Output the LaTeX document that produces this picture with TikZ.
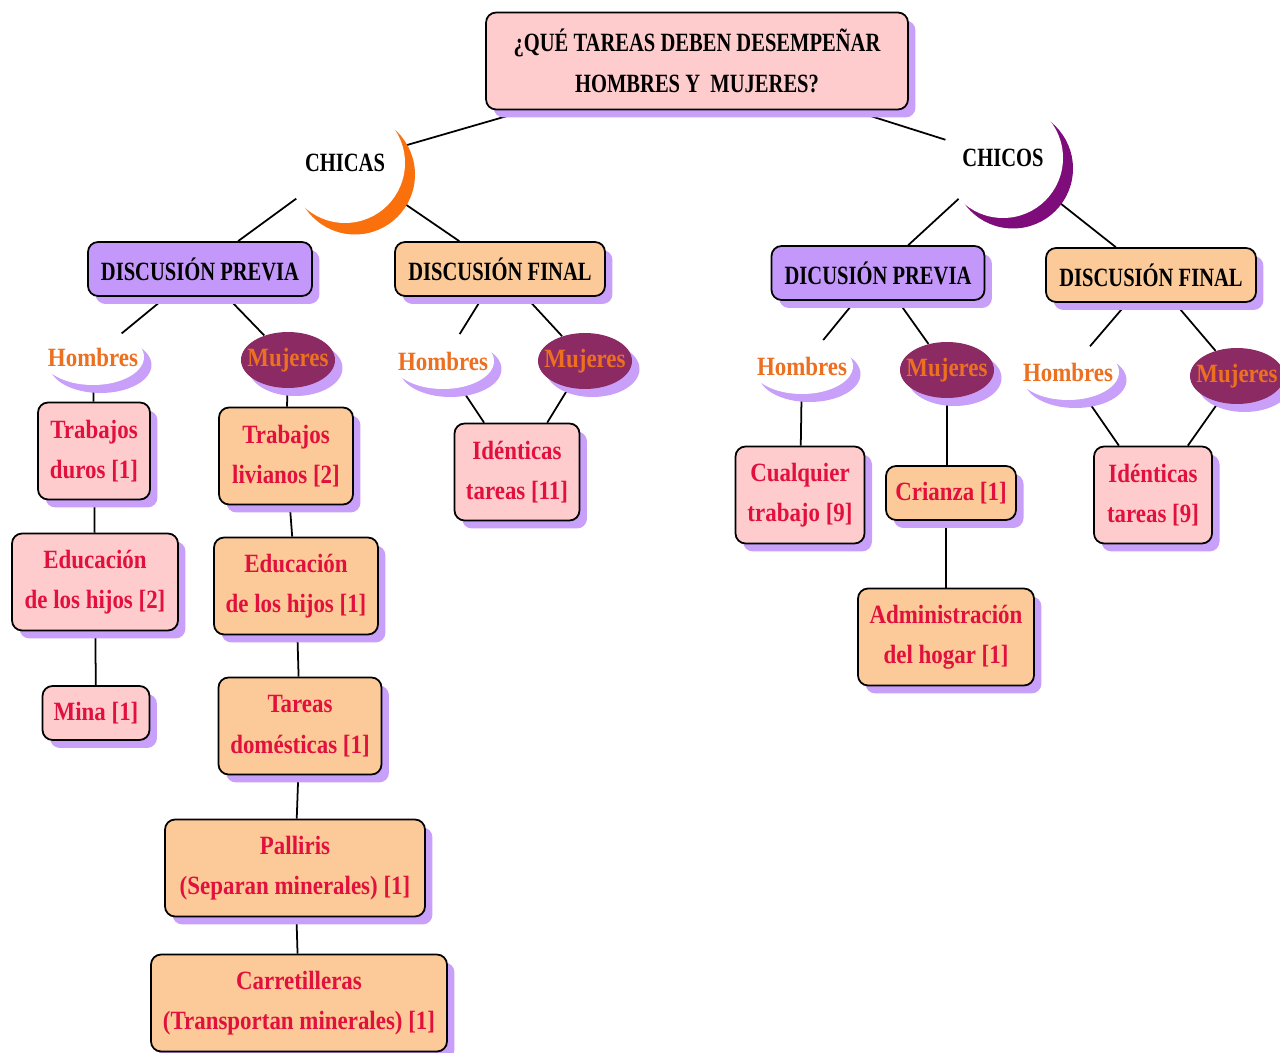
\documentclass[tikz,border=0pt]{standalone}
\usepackage{fontspec}
\setmainfont{Liberation Serif}[FakeStretch=0.78]
\newfontfamily\widefont{Liberation Serif}[FakeStretch=0.87]
\usepackage{tikz}
\usetikzlibrary{shapes.geometric,shadows}
\definecolor{boxpink}{RGB}{255,204,206}
\definecolor{boxpeach}{RGB}{251,202,152}
\definecolor{boxlav}{RGB}{196,152,250}
\definecolor{shadelav}{RGB}{200,160,250}
\definecolor{mujmaroon}{RGB}{140,42,100}
\definecolor{txtorange}{RGB}{236,112,32}
\definecolor{txtred}{RGB}{226,16,60}
\definecolor{chicasorange}{RGB}{250,112,12}
\definecolor{chicospurple}{RGB}{126,12,122}
\pgfdeclarelayer{bg}
\pgfsetlayers{bg,main}

\begin{document}
\begin{tikzpicture}[
  x=0.02cm, y=-0.02cm,
  every node/.style={font=\fontsize{15}{23}\selectfont\bfseries},
  lavshadow/.style={drop shadow={shadow xshift=0.15cm, shadow yshift=-0.16cm,
    fill=shadelav, opacity=1}},
  box/.style={draw, line width=1pt, rounded corners=0.2cm, align=center,
    inner sep=0pt, text=txtred, font=\fontsize{15}{23}\selectfont\widefont\bfseries,
    lavshadow},
  pinkbox/.style={box, fill=boxpink},
  peachbox/.style={box, fill=boxpeach},
  onebox/.style={minimum height=1.08cm},
  twobox/.style={minimum height=1.94cm},
  headbox/.style={box, text=black, font=\fontsize{15}{23}\selectfont\bfseries},
  prevbox/.style={headbox, onebox, fill=boxlav},
  finbox/.style={headbox, onebox, fill=boxpeach},
  hombres/.style={ellipse, fill=white, minimum width=2.04cm,
    minimum height=1.12cm, inner xsep=-0.25cm, inner ysep=0pt, text=txtorange,
    font=\fontsize{15}{23}\selectfont\widefont\bfseries, lavshadow},
  mujeres/.style={hombres, fill=mujmaroon, minimum width=1.88cm},
  grupo/.style={circle, fill=white, minimum size=2.4cm, inner sep=0pt},
  link/.style={line width=1pt}
]
\useasboundingbox (0,0) rectangle (1280,1053);

% pregunta
\node[headbox, fill=boxpink, minimum width=8.44cm, minimum height=1.94cm]
  (title) at (697,61) {¿QUÉ TAREAS DEBEN DESEMPEÑAR\\HOMBRES Y\ \ MUJERES?};

\node[grupo, drop shadow={shadow xshift=0.2cm, shadow yshift=-0.23cm,
  fill=chicasorange, opacity=1}] (chicas) at (345,163) {CHICAS};
\node[grupo, drop shadow={shadow xshift=0.2cm, shadow yshift=-0.21cm,
  fill=chicospurple, opacity=1}] (chicos) at (1003,158) {CHICOS};

% chicas
\node[prevbox, minimum width=4.48cm] (prevA) at (200,269) {DISCUSIÓN PREVIA};
\node[finbox, minimum width=4.2cm] (finA) at (500,269) {DISCUSIÓN FINAL};

\node[hombres] (homA1) at (93,357) {Hombres};
\node[mujeres] (mujA1) at (288,360) {Mujeres};
\node[hombres] (homA2) at (443,361) {Hombres};
\node[mujeres] (mujA2) at (585,361) {Mujeres};

\node[pinkbox, twobox, minimum width=2.24cm] (durosA) at (94,451) {Trabajos\\duros [1]};
\node[pinkbox, twobox, minimum width=3.32cm] (hijosA) at (95,582) {Educación\\de los hijos [2]};
\node[pinkbox, onebox, minimum width=2.14cm] (minaA) at (96,713) {Mina [1]};

\node[peachbox, twobox, minimum width=2.68cm] (livA) at (286,456) {Trabajos\\livianos [2]};
\node[peachbox, twobox, minimum width=3.28cm] (hijosA2) at (296,586) {Educación\\de los hijos [1]};
\node[peachbox, twobox, minimum width=3.26cm] (domA) at (300,726) {Tareas\\domésticas [1]};
\node[peachbox, twobox, minimum width=5.2cm] (palA) at (295,868) {Palliris\\(Separan minerales) [1]};
\node[peachbox, twobox, minimum width=5.92cm] (carA) at (299,1003) {Carretilleras\\(Transportan minerales) [1]};

\node[pinkbox, twobox, minimum width=2.5cm] (idenA) at (517,472) {Idénticas\\tareas [11]};

% chicos
\node[prevbox, minimum width=4.26cm] (prevB) at (878,273) {DICUSIÓN PREVIA};
\node[finbox, minimum width=4.2cm] (finB) at (1151,275) {DISCUSIÓN FINAL};

\node[hombres] (homB1) at (802,366) {Hombres};
\node[mujeres] (mujB1) at (947,370) {Mujeres};
\node[hombres] (homB2) at (1068,372) {Hombres};
\node[mujeres] (mujB2) at (1237,376) {Mujeres};

\node[pinkbox, twobox, minimum width=2.58cm] (cualB) at (800,495) {Cualquier\\trabajo [9]};
\node[peachbox, onebox, minimum width=2.6cm] (crianB) at (951,493) {Crianza [1]};
\node[peachbox, twobox, minimum width=3.52cm] (adminB) at (946,637) {Administración\\del hogar [1]};
\node[pinkbox, twobox, minimum width=2.36cm] (idenB) at (1153,495) {Idénticas\\tareas [9]};

\begin{pgfonlayer}{bg}
\draw[link] (title) -- (chicas);
\draw[link] (title) -- (chicos);
\draw[link] (chicas) -- (prevA);
\draw[link] (chicas) -- (finA);
\draw[link] (chicos) -- (prevB);
\draw[link] (chicos) -- (finB);

\draw[link] (prevA) -- (homA1);
\draw[link] (prevA) -- (mujA1);
\draw[link] (finA) -- (homA2);
\draw[link] (finA) -- (mujA2);
\draw[link] (prevB) -- (homB1);
\draw[link] (prevB) -- (mujB1);
\draw[link] (finB) -- (homB2);
\draw[link] (finB) -- (mujB2);

\draw[link] (homA1) -- (durosA);
\draw[link] (durosA) -- (hijosA);
\draw[link] (hijosA) -- (minaA);
\draw[link] (mujA1) -- (livA);
\draw[link] (livA) -- (hijosA2);
\draw[link] (hijosA2) -- (domA);
\draw[link] (domA) -- (palA);
\draw[link] (palA) -- (carA);
\draw[link] (homA2) -- (idenA);
\draw[link] (mujA2) -- (idenA);

\draw[link] (homB1) -- (cualB);
\draw[link] (mujB1) -- (mujB1 |- crianB);
\draw[link] (adminB |- crianB) -- (adminB);
\draw[link] (homB2) -- (idenB);
\draw[link] (mujB2) -- (idenB);
\end{pgfonlayer}
\end{tikzpicture}
\end{document}
